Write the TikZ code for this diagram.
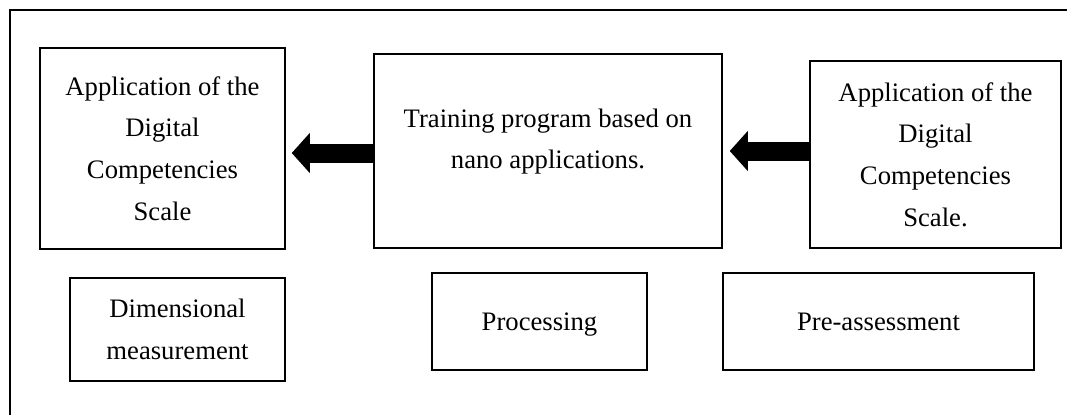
\documentclass[tikz,border=0pt]{standalone}
\usepackage{fontspec}
\setmainfont{Liberation Serif}
\usetikzlibrary{arrows.meta}
\def\u{0.75pt}
\tikzset{
  box/.style={draw=black, line width=1.5*\u, rectangle, inner sep=0pt, align=center,
    font={\fontsize{20}{31.3}\selectfont}},
  txt/.style={inner sep=0pt, align=center, font={\fontsize{20}{31.3}\selectfont}},
  fat/.style={line width=19*\u, -{Triangle[width=39*\u, length=18*\u]}},
  frame/.style={line width=1.3*\u}
}
\begin{document}
\begin{tikzpicture}[x=0.75pt, y=-0.75pt]
\useasboundingbox (0,0) rectangle (1067,415);
% outer frame (top and left edges visible)
\coordinate (ftr) at (1067,10);
\coordinate (ftl) at (10,10);
\coordinate (fbl) at (10,415);
\draw[frame] (ftr) -- (ftl) -- (fbl);
% top row
\node[box, minimum width=245*\u, minimum height=201*\u] (appL) at (162.5,148.5)
  {Application of the\\Digital\\Competencies\\Scale};
\node[box, minimum width=348*\u, minimum height=194*\u] (mid) at (548,151) {};
\node[txt] (midt) at (548,141.5) {Training program based on\\nano applications.};
\node[box, minimum width=251*\u, minimum height=187*\u] (appR) at (935.5,154.5)
  {Application of the\\Digital\\Competencies\\Scale.};
% bottom row
\node[box, minimum width=215*\u, minimum height=103*\u] (dim) at (177.5,329.5)
  {Dimensional\\measurement};
\node[box, minimum width=215*\u, minimum height=97*\u, text depth=0pt] (proc) at (539.5,321.5)
  {Processing};
\node[box, minimum width=311*\u, minimum height=97*\u] (pre) at (878.5,321.5)
  {Pre-assessment};
% arrows
\draw[fat, shorten >=6*\u] ([yshift=-2*\u]mid.west) -- ([yshift=-2*\u]mid.west -| appL.east);
\draw[fat, shorten >=7*\u] (appR.west |- mid.west) -- (mid.east);
\end{tikzpicture}
\end{document}
